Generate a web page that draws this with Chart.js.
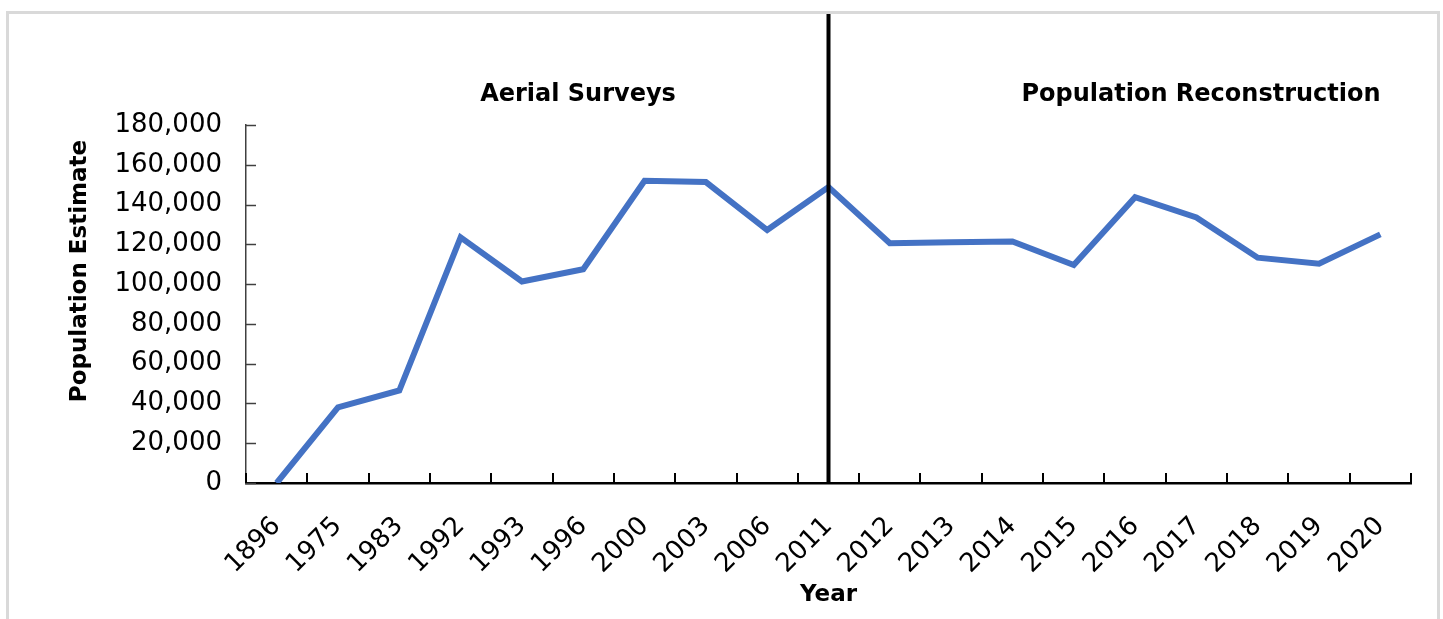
<!DOCTYPE html>
<html>
<head>
<meta charset="utf-8">
<script src="https://cdn.jsdelivr.net/npm/chart.js@4"></script>
<style>
  html, body { margin: 0; padding: 0; background: #fff; overflow: hidden; }
  #frame {
    position: absolute; left: 6px; top: 11px; width: 1434px; height: 640px;
    box-sizing: border-box; border: 3px solid #d9d9d9; border-bottom: none;
  }
  #chart { position: absolute; left: 0; top: 0; }
</style>
</head>
<body>
<div id="frame"></div>
<canvas id="chart" width="1443" height="619"></canvas>
<script>
// Survey years (x axis categories)
const years = ["1896", "1975", "1983", "1992", "1993", "1996", "2000", "2003", "2006", "2011",
  "2012", "2013", "2014", "2015", "2016", "2017", "2018", "2019", "2020"];

// Population estimate for each year
const population = [0, 38000, 46500, 123500, 101300, 107500, 152000, 151300, 127200, 148800,
  120600, 121100, 121400, 109600, 143700, 133500, 113300, 110300, 125000];

// Y axis tick values
const yTicks = [0, 20000, 40000, 60000, 80000, 100000, 120000, 140000, 160000, 180000];

// Year where the method changes, and the two section labels
const splitYear = "2011";
const sectionLabels = ["Aerial Surveys", "Population Reconstruction"];

Chart.defaults.font.family = "'DejaVu Sans', sans-serif";
Chart.defaults.color = "#000";

// inward tick marks, the split line and the free text
const overlay = {
  id: "overlay",
  afterDatasetsDraw(chart) {
    const { ctx, chartArea: a, scales: { x, y } } = chart;
    ctx.save();

    // y ticks pointing into the plot
    ctx.strokeStyle = "#404040";
    ctx.lineWidth = 1.5;
    y.ticks.forEach(t => {
      const py = Math.round(y.getPixelForValue(t.value)) + 0.5;
      ctx.beginPath();
      ctx.moveTo(a.left, py);
      ctx.lineTo(a.left + 10, py);
      ctx.stroke();
    });

    // x ticks between categories, pointing up
    ctx.strokeStyle = "#000";
    ctx.lineWidth = 2;
    for (let i = 0; i <= years.length; i++) {
      const px = Math.round(x.getPixelForValue(i - 0.5));
      ctx.beginPath();
      ctx.moveTo(px, a.bottom);
      ctx.lineTo(px, a.bottom - 10);
      ctx.stroke();
    }

    // split line
    const sx = x.getPixelForValue(years.indexOf(splitYear));
    ctx.strokeStyle = "#000";
    ctx.lineWidth = 4;
    ctx.beginPath();
    ctx.moveTo(sx, 14);
    ctx.lineTo(sx, a.bottom);
    ctx.stroke();

    // section labels
    ctx.fillStyle = "#000";
    ctx.font = "bold 24px 'DejaVu Sans'";
    ctx.textAlign = "center";
    ctx.textBaseline = "alphabetic";
    ctx.fillText(sectionLabels[0], 578, 101);
    ctx.fillText(sectionLabels[1], 1201, 101);

    // y axis title
    ctx.translate(80, 271);
    ctx.rotate(-Math.PI / 2);
    ctx.textBaseline = "middle";
    ctx.font = "bold 23px 'DejaVu Sans'";
    ctx.fillText("Population Estimate", 0, 0);

    ctx.restore();
  }
};

new Chart(document.getElementById("chart"), {
  type: "line",
  data: {
    labels: years,
    datasets: [{
      data: population,
      borderColor: "#4472C4",
      borderWidth: 6,
      pointRadius: 0,
      tension: 0,
      clip: 0
    }]
  },
  options: {
    responsive: false,
    animation: false,
    devicePixelRatio: 1,
    layout: { padding: { top: 125, right: 32, left: 0, bottom: 0 } },
    plugins: { legend: { display: false }, tooltip: { enabled: false } },
    scales: {
      x: {
        type: "category",
        offset: true,
        grid: { display: false, drawTicks: false },
        border: { color: "#000", width: 2.5 },
        ticks: {
          autoSkip: false,
          minRotation: 45,
          maxRotation: 45,
          padding: 28,
          font: { size: 26 }
        },
        title: {
          display: true,
          text: "Year",
          font: { size: 23, weight: "bold" },
          padding: { top: 0, bottom: 10 }
        },
        afterFit(scale) { scale.height = 136; }
      },
      y: {
        min: 0,
        max: 180000,
        grid: { display: false, drawTicks: false },
        border: { color: "#404040", width: 1.5 },
        afterBuildTicks(scale) { scale.ticks = yTicks.map(v => ({ value: v })); },
        ticks: {
          padding: 24,
          font: { size: 26 },
          callback: v => v.toLocaleString("en-US")
        },
        afterFit(scale) { scale.width = 246; }
      }
    }
  },
  plugins: [overlay]
});
</script>
</body>
</html>
